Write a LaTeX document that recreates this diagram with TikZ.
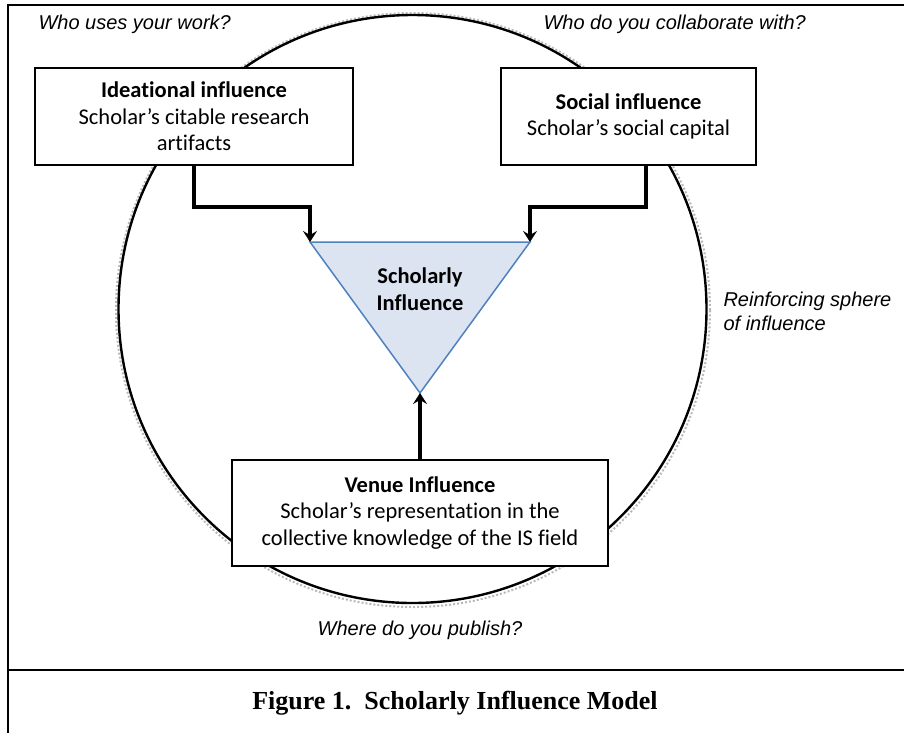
\documentclass[tikz,border=0pt]{standalone}
\usepackage{fontspec}
\setmainfont{Liberation Serif}
\newfontfamily\calibri[Ligatures={NoCommon}]{Carlito}
\newfontfamily\arialf{Liberation Sans}
\usetikzlibrary{arrows.meta}
\definecolor{trifill}{HTML}{DCE4F2}
\definecolor{triline}{HTML}{4F81BD}
\begin{document}
\begin{tikzpicture}[x=1pt,y=-1pt,
  box/.style={draw,line width=1.5pt,fill=white,align=center,
    font=\calibri\fontsize{22.5}{26.5}\selectfont,inner sep=0pt},
  flow/.style={line width=4.2pt,-{Stealth[length=11pt,width=14pt,inset=4pt]}},
  lab/.style={font=\arialf\itshape\fontsize{20}{24}\selectfont,anchor=west,align=left},
  ring/.style={line width=2.4pt},
  ringshadow/.style={gray!55,line width=2pt,dotted}]
\useasboundingbox (0,0) rectangle (904,732);
% frame
\draw[line width=2.6pt] (8,740) -- (8,5) -- (910,5);
\draw[line width=2.6pt] (8,670) -- (910,670);
% sphere
\draw[ringshadow] (413,310) circle[radius=297pt];
\draw[ring] (412.5,309) circle[radius=294pt];
% boxes
\node[box,minimum width=318pt,minimum height=97pt] (idea) at (194,116.5)
  {\textbf{Ideational influence}\\Scholar’s citable research\\artifacts};
\node[box,minimum width=255pt,minimum height=97pt] (soc) at (628.5,116.5)
  {\textbf{Social influence}\\Scholar’s social capital};
\node[box,minimum width=376pt,minimum height=106pt] (venue) at (420,513)
  {\textbf{Venue Influence}\\Scholar’s representation in the\\collective knowledge of the IS field};
% triangle
\coordinate (tl) at (310,242);
\coordinate (tr) at (530,242);
\coordinate (tb) at (420,393);
\draw[fill=trifill,draw=triline,line width=1.5pt] (tl) -- (tr) -- (tb) -- cycle;
\node[font=\calibri\bfseries\fontsize{22.5}{26.5}\selectfont,align=center] (si) at (420,289) {Scholarly\\Influence};
% arrows
\coordinate (ia) at (194,207);
\coordinate (sa) at (646,207);
\draw[flow] (idea.south -| ia) -- (ia) -- (ia -| tl) -- (tl);
\draw[flow] (soc.south -| sa) -- (sa) -- (sa -| tr) -- (tr);
\draw[flow] (venue.north -| tb) -- (tb);
% labels
\node[lab] (q1) at (35,24) {Who uses your work?};
\node[lab] (q2) at (540,24) {Who do you collaborate with?};
\node[lab] (q3) at (720,311) {Reinforcing sphere\\of influence};
\node[font=\arialf\itshape\fontsize{20}{24}\selectfont] (q4) at (420,630) {Where do you publish?};
\node[font=\bfseries\fontsize{26}{30}\selectfont] (cap) at (455,703) {Figure 1.\ \ Scholarly Influence Model};
\end{tikzpicture}
\end{document}
